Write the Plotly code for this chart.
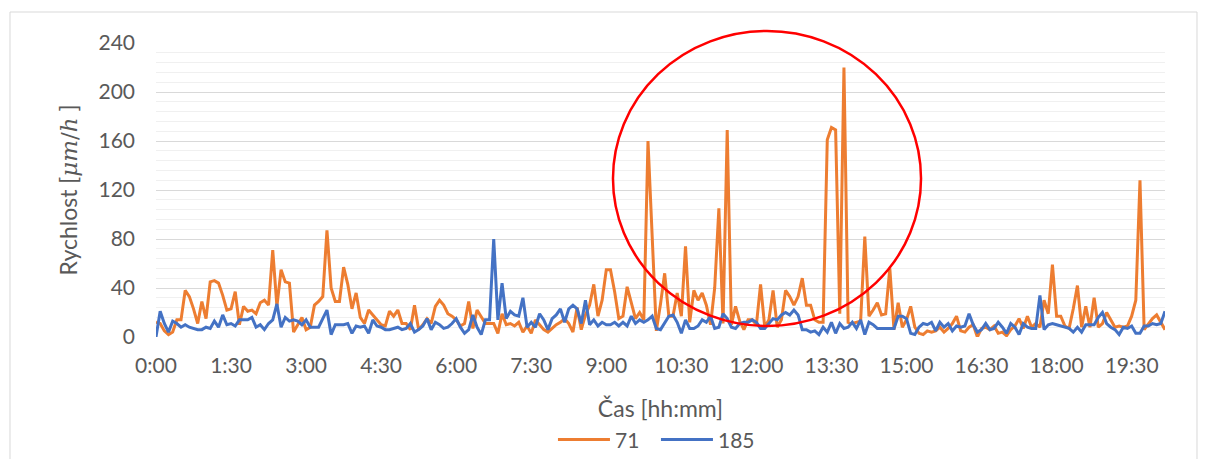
import plotly.graph_objects as go

# ---- data (5-minute samples) ----
s71 = [12, 11, 5, 2, 4, 14, 14, 38, 33, 23,
       11, 29, 15, 45, 46, 44, 34, 22, 23, 37,
       10, 25, 21, 22, 19, 28, 30, 26, 71, 25,
       55, 45, 44, 4, 10, 16, 6, 8, 26, 29,
       33, 87, 40, 29, 29, 57, 43, 23, 36, 16,
       11, 22, 18, 14, 10, 9, 21, 17, 22, 11,
       11, 6, 26, 6, 10, 15, 11, 25, 30, 26,
       19, 17, 14, 9, 11, 29, 7, 22, 17, 11,
       11, 11, 3, 19, 10, 11, 9, 12, 4, 9,
       3, 14, 10, 6, 4, 7, 10, 12, 15, 11,
       4, 24, 6, 18, 26, 43, 17, 30, 55, 55,
       37, 15, 17, 41, 28, 15, 20, 14, 160, 80,
       5, 27, 52, 17, 17, 36, 17, 74, 12, 38,
       30, 36, 26, 10, 40, 105, 11, 169, 10, 25,
       13, 6, 14, 14, 10, 43, 8, 14, 38, 8,
       14, 38, 33, 26, 33, 48, 26, 26, 14, 12,
       12, 161, 171, 169, 19, 220, 12, 11, 12, 13,
       82, 17, 22, 28, 18, 19, 56, 6, 28, 8,
       14, 25, 8, 3, 2, 5, 4, 5, 8, 4,
       7, 11, 17, 5, 4, 8, 10, 0, 7, 8,
       6, 9, 3, 4, 1, 6, 9, 15, 7, 17,
       8, 11, 8, 30, 19, 59, 17, 17, 9, 7,
       23, 42, 8, 25, 8, 32, 8, 11, 20, 14,
       8, 9, 8, 9, 17, 30, 128, 6, 11, 15,
       18, 12, 6]

s185 = [0, 21, 11, 4, 13, 11, 8, 10, 8, 7,
        6, 6, 8, 7, 13, 8, 18, 10, 11, 9,
        14, 14, 14, 16, 8, 10, 6, 11, 14, 27,
        8, 16, 13, 14, 13, 10, 14, 8, 8, 8,
        15, 22, 2, 10, 10, 10, 11, 3, 9, 8,
        9, 3, 14, 9, 8, 6, 6, 7, 8, 6,
        7, 11, 4, 6, 9, 15, 6, 12, 10, 7,
        8, 11, 15, 8, 3, 6, 18, 8, 2, 14,
        14, 80, 14, 44, 15, 21, 18, 17, 32, 8,
        12, 8, 19, 14, 6, 15, 18, 23, 12, 23,
        26, 23, 11, 30, 10, 14, 9, 12, 10, 10,
        12, 9, 12, 9, 17, 11, 14, 12, 14, 17,
        7, 6, 12, 17, 18, 12, 3, 14, 7, 7,
        9, 14, 12, 17, 7, 8, 19, 15, 8, 7,
        11, 12, 12, 14, 12, 7, 7, 11, 15, 14,
        18, 20, 18, 22, 18, 6, 6, 4, 5, 2,
        8, 4, 12, 3, 11, 7, 8, 12, 7, 14,
        2, 12, 10, 7, 7, 7, 7, 7, 17, 17,
        15, 3, 2, 8, 11, 10, 12, 5, 12, 8,
        11, 5, 9, 8, 9, 19, 10, 4, 6, 11,
        6, 7, 12, 8, 3, 11, 8, 2, 11, 8,
        7, 7, 34, 6, 10, 11, 10, 9, 8, 7,
        4, 8, 4, 10, 10, 10, 16, 20, 11, 8,
        6, 2, 8, 7, 9, 3, 3, 9, 9, 11,
        10, 11, 21]

step_min = 5
minutes = [i * step_min for i in range(len(s71))]

x_tick_labels = ["0:00", "1:30", "3:00", "4:30", "6:00", "7:30", "9:00",
                 "10:30", "12:00", "13:30", "15:00", "16:30", "18:00", "19:30"]
x_tick_vals = [int(t.split(":")[0]) * 60 + int(t.split(":")[1]) for t in x_tick_labels]

series_names = ["71", "185"]
series_colors = ["#ED7D31", "#4472C4"]

FONT = "Lato, 'Open Sans', sans-serif"
TXT = "#595959"

fig = go.Figure()
for name, vals, col in zip(series_names, [s71, s185], series_colors):
    fig.add_trace(go.Scatter(x=minutes, y=vals, mode="lines", name=name,
                             line=dict(color=col, width=3)))

fig.update_layout(
    width=1207, height=459, autosize=False,
    margin=dict(l=156, r=42, t=43, b=122, autoexpand=False),
    paper_bgcolor="white", plot_bgcolor="white",
    font=dict(family=FONT, color=TXT, size=21),
    showlegend=True,
    legend=dict(orientation="h", x=0.4955, xanchor="center", y=-0.35, yanchor="middle",
                font=dict(size=21, color=TXT), bgcolor="rgba(0,0,0,0)",
                itemwidth=52, entrywidth=36, entrywidthmode="pixels", tracegroupgap=0),
    xaxis=dict(range=[0, minutes[-1]], tickmode="array", tickvals=x_tick_vals,
               ticktext=x_tick_labels, showgrid=False, zeroline=False, showline=False,
               ticks="", tickfont=dict(size=21, color=TXT), ticklabelstandoff=14,
               title=dict(text="Čas [hh:mm]", font=dict(size=23, color=TXT), standoff=24)),
    yaxis=dict(range=[0, 240], tickmode="linear", tick0=0, dtick=40,
               showgrid=True, gridcolor="#D9D9D9", gridwidth=1.3,
               minor=dict(tickmode="linear", dtick=8, showgrid=True, gridcolor="#F0F0F0", gridwidth=1),
               zeroline=False, showline=False, ticks="",
               tickfont=dict(size=21, color=TXT), ticklabelstandoff=20,
               title=dict(text='Rychlost [<span style="font-family:\'DejaVu Serif\', serif"><i>μm</i>/<i>h</i></span> ]',
                          font=dict(size=23, color=TXT), standoff=14)),
    shapes=[
        dict(type="rect", xref="paper", yref="paper", x0=-0.1447, x1=1.0317, y0=-0.48, y1=1.1054,
             line=dict(color="#D9D9D9", width=1), fillcolor="rgba(0,0,0,0)", layer="below"),
        dict(type="circle", xref="paper", yref="paper", x0=0.4529, x1=0.7582, y0=0.0374, y1=1.0408,
             line=dict(color="#FF0000", width=2.5), fillcolor="rgba(0,0,0,0)"),
    ],
)

fig.write_html("out.html")
